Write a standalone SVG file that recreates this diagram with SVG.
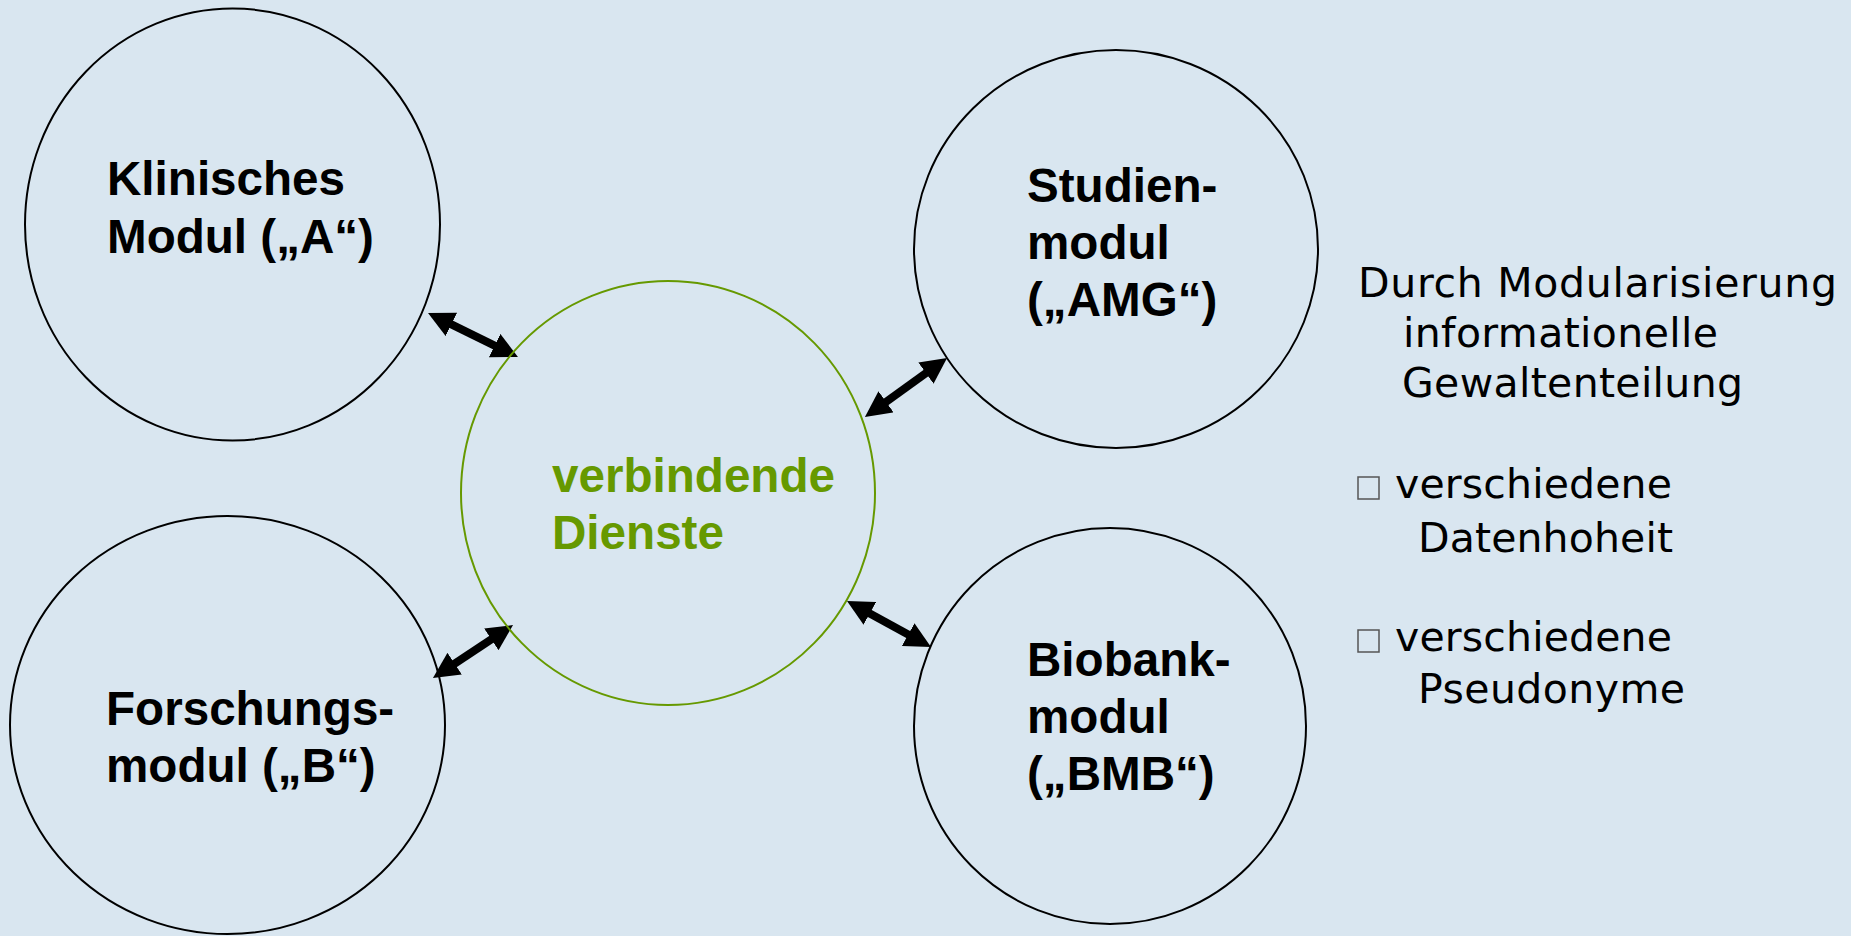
<svg xmlns="http://www.w3.org/2000/svg" width="1851" height="936" viewBox="0 0 1851 936">
<style>
.mod{fill:none;stroke:#000;stroke-width:2}
.hub{fill:none;stroke:#669900;stroke-width:2}
.lbl{font-family:"Liberation Sans",Arial,sans-serif;font-weight:bold;font-size:47.6px;fill:#000}
.glbl{font-family:"Liberation Sans",Arial,sans-serif;font-weight:bold;font-size:47.6px;fill:#669900}
.side{font-family:"DejaVu Sans",Verdana,sans-serif;font-size:41px;fill:#000}
.box{fill:none;stroke:#555;stroke-width:1.5}
.conn{stroke:#000;stroke-width:8;marker-start:url(#ah);marker-end:url(#ah)}
</style>
<defs>
<marker id="ah" markerUnits="userSpaceOnUse" markerWidth="26" markerHeight="26" viewBox="0 0 26 26" refX="13" refY="13" orient="auto-start-reverse">
<path d="M0,0 L26,13 L0,26 z" fill="#000"/>
</marker>
</defs>
<rect width="1851" height="936" fill="#D9E6F0"/>
<g id="connectors">
<line class="conn" x1="439.7" y1="318.7" x2="506.3" y2="351.3"/>
<line class="conn" x1="875.5" y1="409.4" x2="936.5" y2="365.6"/>
<line class="conn" x1="443.8" y1="670.8" x2="502.2" y2="632.2"/>
<line class="conn" x1="858.4" y1="607.2" x2="919.6" y2="640.8"/>
</g>
<g id="klinisch">
<ellipse class="mod" cx="232.5" cy="224.5" rx="207.5" ry="216"/>
<text class="lbl" x="107" y="195">Klinisches</text>
<text class="lbl" x="107" y="253">Modul („A“)</text>
</g>
<g id="forschung">
<ellipse class="mod" cx="227.5" cy="725" rx="217.5" ry="209"/>
<text class="lbl" x="106" y="725">Forschungs-</text>
<text class="lbl" x="106" y="782">modul („B“)</text>
</g>
<g id="dienste">
<ellipse class="hub" cx="668" cy="493" rx="207" ry="212"/>
<text class="glbl" x="552" y="492">verbindende</text>
<text class="glbl" x="552" y="549">Dienste</text>
</g>
<g id="studien">
<ellipse class="mod" cx="1116" cy="249" rx="202" ry="199"/>
<text class="lbl" x="1027" y="202">Studien-</text>
<text class="lbl" x="1027" y="259">modul</text>
<text class="lbl" x="1027" y="316">(„AMG“)</text>
</g>
<g id="biobank">
<ellipse class="mod" cx="1110" cy="726" rx="196" ry="198"/>
<text class="lbl" x="1027" y="676">Biobank-</text>
<text class="lbl" x="1027" y="733">modul</text>
<text class="lbl" x="1027" y="790">(„BMB“)</text>
</g>
<g id="sidetext">
<text class="side" x="1358" y="297" textLength="479" lengthAdjust="spacing">Durch Modularisierung</text>
<text class="side" x="1403" y="347" textLength="315" lengthAdjust="spacing">informationelle</text>
<text class="side" x="1402" y="397" textLength="341" lengthAdjust="spacing">Gewaltenteilung</text>
<rect class="box" x="1358" y="477" width="21" height="22"/>
<text class="side" x="1395" y="498" textLength="277" lengthAdjust="spacing">verschiedene</text>
<text class="side" x="1418" y="552" textLength="255" lengthAdjust="spacing">Datenhoheit</text>
<rect class="box" x="1358" y="630" width="21" height="22"/>
<text class="side" x="1395" y="651" textLength="277" lengthAdjust="spacing">verschiedene</text>
<text class="side" x="1418" y="703" textLength="267" lengthAdjust="spacing">Pseudonyme</text>
</g>
</svg>
